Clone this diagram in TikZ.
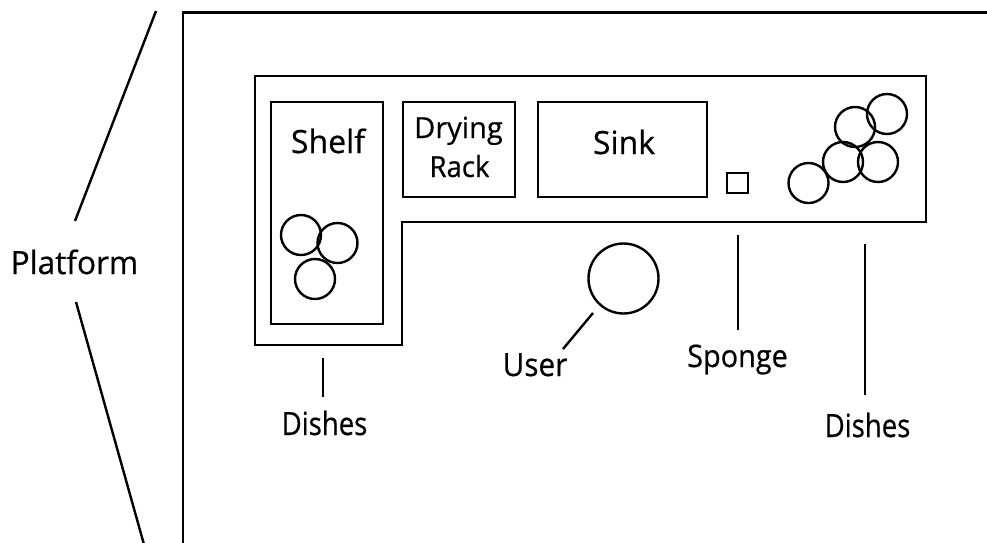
\documentclass[tikz,border=0pt]{standalone}
\usepackage{fontspec}
\setmainfont{Open Sans}[BoldFont={Open Sans}, BoldFeatures={FakeBold=0.6}]
\tikzset{
  lbl/.style={inner sep=0pt, font=\bfseries\fontsize{32}{36}\selectfont},
  dish/.style={draw, circle, minimum size=40pt, inner sep=0pt},
  boxx/.style={draw, rectangle, inner sep=0pt},
}
\begin{document}
\begin{tikzpicture}[x=1pt,y=-1pt,line width=2.4pt]
\useasboundingbox (0,0) rectangle (987,542);
\clip (0,0) rectangle (987,542);
% outer frame
\draw (183,560) -- (183,12.5) -- (1000,12.5);
% platform label and lines
\node[lbl, anchor=base] (platform) at (74.5,274) {\scalebox{0.985}[1]{Platform}};
\coordinate (pu1) at (156,11);
\coordinate (pu2) at (75,221);
\coordinate (pd1) at (76,302);
\coordinate (pd2) at (145,548);
\draw (pu2) -- (pu1);
\draw (pd1) -- (pd2);
% L-shaped counter
\draw (255,76) -- (926,76) -- (926,222) -- (402,222) -- (402,345) -- (255,345) -- cycle;
% shelf
\node[boxx, minimum width=112pt, minimum height=222pt] (shelf) at (327,213) {};
\node[lbl, anchor=base] (shelft) at (328,153) {Shelf};
% drying rack
\node[boxx, minimum width=112pt, minimum height=95pt] (rack) at (459,149.5) {};
\node[lbl, anchor=base] (rackt1) at (458.5,138) {\fontsize{29}{36}\selectfont Drying};
\node[lbl, anchor=base] (rackt2) at (459.5,177) {\fontsize{29}{36}\selectfont\scalebox{0.95}[1]{Rack}};
% sink
\node[boxx, minimum width=169pt, minimum height=95pt] (sink) at (622.5,149.5) {};
\node[lbl, anchor=base] (sinkt) at (624,154) {Sink};
% sponge
\node[boxx, minimum width=21pt, minimum height=20pt] (sponge) at (737.5,183) {};
% dishes on shelf
\node[dish] (s1) at (301,235) {};
\node[dish] (s2) at (337.5,243) {};
\node[dish] (s3) at (315,279) {};
% dishes on counter
\node[dish] (c1) at (808.5,183) {};
\node[dish] (c2) at (843,162) {};
\node[dish] (c3) at (878,162) {};
\node[dish] (c4) at (855,127) {};
\node[dish] (c5) at (887,114) {};
% user
\node[draw, circle, minimum size=70pt, inner sep=0pt] (user) at (623.5,278.5) {};
\node[lbl, anchor=base] (usert) at (535,376) {\scalebox{0.93}[1]{User}};
\coordinate (ul1) at (593,313);
\coordinate (ul2) at (563,349);
\draw (ul1) -- (ul2);
% sponge label
\coordinate (sl1) at (738,235);
\coordinate (sl2) at (738,330);
\draw (sl1) -- (sl2);
\node[lbl, anchor=base] (sponget) at (737.5,367) {\fontsize{31}{36}\selectfont\scalebox{0.93}[1]{Sponge}};
% dishes labels
\coordinate (dl1) at (323,358);
\coordinate (dl2) at (323,397);
\draw (dl1) -- (dl2);
\node[lbl, anchor=base] (dishl) at (324.5,435) {\scalebox{0.86}[1]{Dishes}};
\coordinate (dr1) at (865,244);
\coordinate (dr2) at (865,395);
\draw (dr1) -- (dr2);
\node[lbl, anchor=base] (dishr) at (867.5,437) {\scalebox{0.86}[1]{Dishes}};
\end{tikzpicture}
\end{document}
